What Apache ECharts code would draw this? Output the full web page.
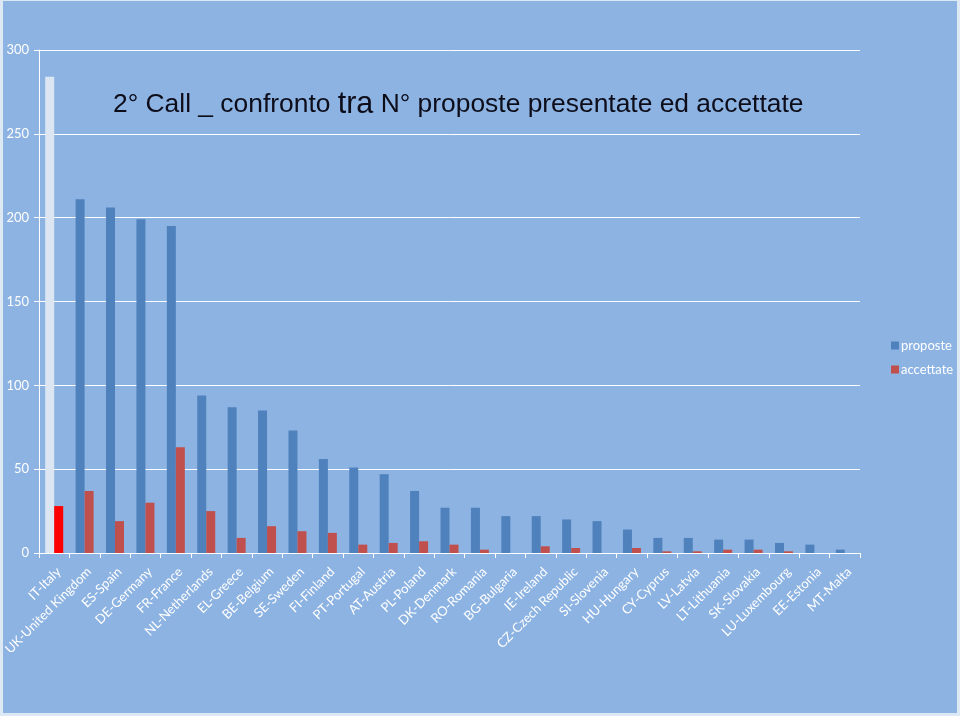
<!DOCTYPE html>
<html>
<head>
<meta charset="utf-8">
<script src="https://cdn.jsdelivr.net/npm/echarts@6/dist/echarts.min.js"></script>
<style>
html,body{margin:0;padding:0;background:#dde8f5;}
#chart{width:960px;height:716px;}
</style>
</head>
<body>
<div id="chart"></div>
<script>
const categories = ["IT-Italy","UK-United Kingdom","ES-Spain","DE-Germany","FR-France","NL-Netherlands","EL-Greece","BE-Belgium","SE-Sweden","FI-Finland","PT-Portugal","AT-Austria","PL-Poland","DK-Denmark","RO-Romania","BG-Bulgaria","IE-Ireland","CZ-Czech Republic","SI-Slovenia","HU-Hungary","CY-Cyprus","LV-Latvia","LT-Lithuania","SK-Slovakia","LU-Luxembourg","EE-Estonia","MT-Malta"];
const proposte = [284,211,206,199,195,94,87,85,73,56,51,47,37,27,27,22,22,20,19,14,9,9,8,8,6,5,2];
const accettate = [28,37,19,30,63,25,9,16,13,12,5,6,7,5,2,0,4,3,0,3,1,1,2,2,1,0,0];
const yTicks = [0,50,100,150,200,250,300];
const seriesNames = ["proposte","accettate"];
const titleParts = ["2° Call _ confronto ", "tra", " N° proposte presentate ed accettate"];

const blue = '#4f81bd', red = '#c0504d';
const chart = echarts.init(document.getElementById('chart'), null, {renderer:'canvas'});
const font = 'Lato, "Open Sans", sans-serif';

const propData = proposte.map((v,i)=> i===0 ? {value:v, itemStyle:{color:'#dce6f2'}} : v);
const accData = accettate.map((v,i)=> i===0 ? {value:v, itemStyle:{color:'#ff0000'}} : v);

chart.setOption({
  backgroundColor:'#dde8f5',
  animation:false,
  graphic:[{type:'rect', z:-10, silent:true, shape:{x:3,y:1,width:954,height:712}, style:{fill:'#8db3e2'}}],
  title:{
    text:'{a|'+titleParts[0]+'}{b|'+titleParts[1]+'}{a|'+titleParts[2]+'}',
    left:108, top:84,
    textStyle:{fontWeight:'normal', rich:{
      a:{fontFamily:'"Liberation Sans", Arial, sans-serif', fontSize:26.4, fontWeight:'normal', color:'#0d0d1a'},
      b:{fontFamily:'"Liberation Sans", Arial, sans-serif', fontSize:30.5, fontWeight:'normal', color:'#0d0d1a'}
    }}
  },
  legend:{
    data:seriesNames, orient:'vertical', left:886, top:334, itemWidth:8, itemHeight:8, itemGap:11,
    icon:'rect',
    textStyle:{color:'#ffffff', fontSize:13, fontFamily:font, padding:[0,0,0,-3]}
  },
  grid:{left:39, right:100, top:50, bottom:163, containLabel:false, outerBoundsMode:'none'},
  xAxis:{
    type:'category', data:categories,
    axisLine:{lineStyle:{color:'#ffffff', width:1}},
    axisTick:{show:true, lineStyle:{color:'#ffffff'}, length:5, alignWithLabel:false},
    axisLabel:{rotate:45, color:'#ffffff', fontSize:13, fontFamily:font, interval:0, margin:12, verticalAlign:'top'}
  },
  yAxis:{
    type:'value', min:yTicks[0], max:yTicks[yTicks.length-1], interval:50,
    axisLine:{show:true, lineStyle:{color:'#ffffff'}},
    axisTick:{show:true, length:5, lineStyle:{color:'#ffffff'}},
    splitLine:{lineStyle:{color:'#ffffff', width:1}},
    axisLabel:{color:'#ffffff', fontSize:13, fontFamily:font, margin:10}
  },
  series:[
    {name:seriesNames[0], type:'bar', data:propData, barWidth:9, barGap:'0%', itemStyle:{color:blue}},
    {name:seriesNames[1], type:'bar', data:accData, barWidth:9, barGap:'0%', itemStyle:{color:red}}
  ]
});
</script>
</body>
</html>
